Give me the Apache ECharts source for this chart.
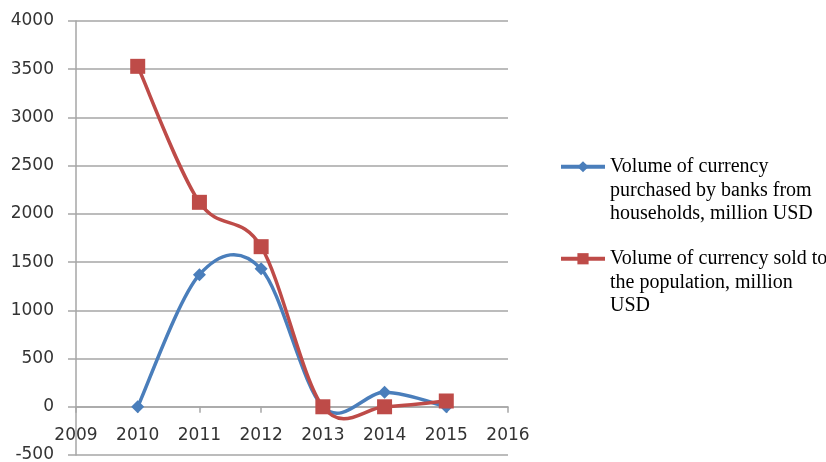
<!DOCTYPE html>
<html>
<head>
<meta charset="utf-8">
<script src="https://cdn.jsdelivr.net/npm/echarts@6/dist/echarts.min.js"></script>
<style>
  html, body { margin: 0; padding: 0; background: #fff; }
  #chart { width: 826px; height: 462px; }
</style>
</head>
<body>
<div id="chart"></div>
<script>
// data
var years = [2010, 2011, 2012, 2013, 2014, 2015];
var purchased = [0, 1370, 1430, 0, 150, 0];
var sold = [3530, 2120, 1660, 0, 0, 60];
var seriesNames = [
  'Volume of currency\npurchased by banks from\nhouseholds, million USD',
  'Volume of currency sold to\nthe population, million\nUSD'
];
var blue = '#4A7EBB';
var red = '#BE4B48';

var chart = echarts.init(document.getElementById('chart'));

function pairs(vals) {
  return years.map(function (y, i) { return [y, vals[i]]; });
}

// excel style smoothing (catmull-rom), drawn segment by segment via api.coord
function curve(vals, color, z) {
  return {
    type: 'custom',
    name: 'curve',
    data: pairs(vals),
    silent: true,
    z: z,
    renderItem: function (params, api) {
      var i = params.dataIndex;
      var n = years.length;
      if (i >= n - 1) return { type: 'group', children: [] };
      var p = function (k) {
        k = Math.max(0, Math.min(n - 1, k));
        return api.coord([years[k], vals[k]]);
      };
      var p0 = p(i - 1), p1 = p(i), p2 = p(i + 1), p3 = p(i + 2);
      return {
        type: 'bezierCurve',
        shape: {
          x1: p1[0], y1: p1[1],
          x2: p2[0], y2: p2[1],
          cpx1: p1[0] + (p2[0] - p0[0]) / 6,
          cpy1: p1[1] + (p2[1] - p0[1]) / 6,
          cpx2: p2[0] - (p3[0] - p1[0]) / 6,
          cpy2: p2[1] - (p3[1] - p1[1]) / 6
        },
        style: { stroke: color, lineWidth: 3.5, fill: null, lineCap: 'round' }
      };
    }
  };
}

var legendText = {
  fontFamily: 'Liberation Serif',
  fontSize: 20,
  color: '#000',
  lineHeight: 23.5
};

var option = {
  animation: false,
  grid: { left: 76, right: 318, top: 21, bottom: 7, outerBoundsMode: 'none' },
  legend: [
    {
      left: 559, top: 108, padding: 0,
      itemWidth: 44, itemHeight: 14,
      lineStyle: { width: 4, opacity: 1 },
      textStyle: legendText,
      formatter: function (name) { return '\n\n' + name; },
      data: [seriesNames[0]]
    },
    {
      left: 559, top: 200, padding: 0,
      itemWidth: 44, itemHeight: 14,
      lineStyle: { width: 4, opacity: 1 },
      textStyle: legendText,
      formatter: function (name) { return '\n\n' + name; },
      data: [seriesNames[1]]
    }
  ],
  xAxis: {
    type: 'value',
    min: 2009,
    max: 2016,
    interval: 1,
    offset: -48.2,
    axisLine: { onZero: false, lineStyle: { color: '#a6a6a6', width: 1.5 } },
    axisTick: { show: true, length: 6, lineStyle: { color: '#a6a6a6', width: 1.5 } },
    splitLine: { show: false },
    axisLabel: {
      formatter: function (v) { return String(v); },
      fontFamily: 'DejaVu Sans',
      fontSize: 17,
      color: '#333',
      margin: 20
    }
  },
  yAxis: {
    type: 'value',
    min: -500,
    max: 4000,
    interval: 500,
    axisLine: { show: true, lineStyle: { color: '#a6a6a6', width: 1.5 } },
    axisTick: { show: true, length: 8, lineStyle: { color: '#a6a6a6', width: 1.5 } },
    splitLine: { show: true, lineStyle: { color: '#a6a6a6', width: 1.5 } },
    axisLabel: {
      formatter: function (v) { return String(v); },
      fontFamily: 'DejaVu Sans',
      fontSize: 17,
      color: '#333',
      margin: 22
    }
  },
  series: [
    curve(purchased, blue, 2),
    curve(sold, red, 3),
    {
      name: seriesNames[0],
      type: 'line',
      data: pairs(purchased),
      symbol: 'diamond',
      symbolSize: 13,
      lineStyle: { color: blue, width: 4, opacity: 0 },
      itemStyle: { color: blue },
      z: 4
    },
    {
      name: seriesNames[1],
      type: 'line',
      data: pairs(sold),
      symbol: 'rect',
      symbolSize: 15,
      lineStyle: { color: red, width: 4, opacity: 0 },
      itemStyle: { color: red },
      z: 5
    }
  ]
};

chart.setOption(option);
</script>
</body>
</html>
